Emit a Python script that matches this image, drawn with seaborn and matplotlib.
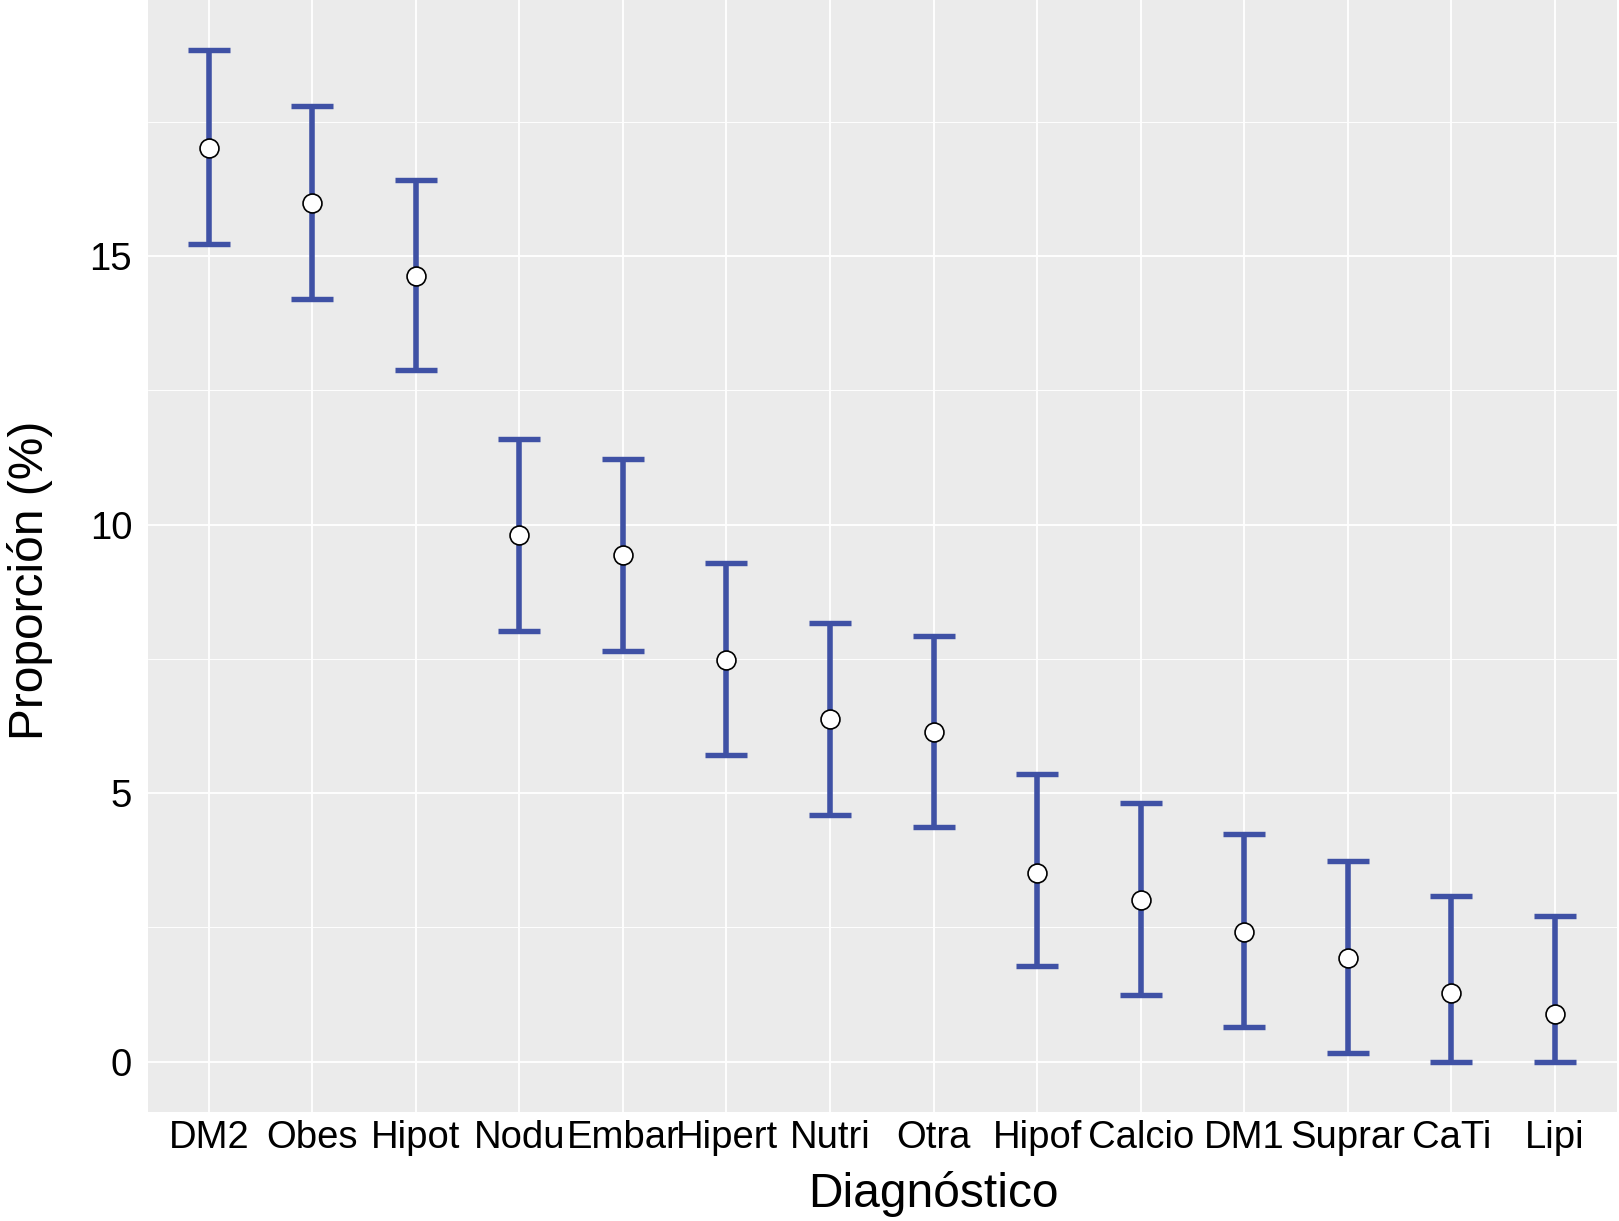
import matplotlib
matplotlib.use("Agg")
import matplotlib.pyplot as plt
import seaborn as sns
import numpy as np
import pandas as pd

# ---- data ----
categories = ["DM2", "Obes", "Hipot", "Nodu", "Embar", "Hipert", "Nutri",
              "Otra", "Hipof", "Calcio", "DM1", "Suprar", "CaTi", "Lipi"]
proportion = [17.02, 15.98, 14.63, 9.81, 9.44, 7.48, 6.37,
              6.13, 3.52, 3.00, 2.42, 1.92, 1.27, 0.88]
lower = [15.23, 14.21, 12.87, 8.02, 7.65, 5.71, 4.60,
         4.37, 1.77, 1.23, 0.65, 0.15, 0.00, 0.00]
upper = [18.83, 17.79, 16.42, 11.60, 11.23, 9.29, 8.17,
         7.92, 5.35, 4.81, 4.23, 3.73, 3.08, 2.71]
y_ticks = [0, 5, 10, 15]
y_minor = [2.5, 7.5, 12.5, 17.5]
x_title = "Diagnóstico"
y_title = "Proporción (%)"

df = pd.DataFrame({"cat": categories, "p": proportion, "lo": lower, "hi": upper})

sns.set_theme(style="darkgrid")
plt.rcParams['font.family'] = ['Liberation Sans', 'DejaVu Sans']

W, H = 1619, 1221
fig = plt.figure(figsize=(W / 100, H / 100), dpi=100)
fig.patch.set_facecolor("white")
left, right, top, bottom = 147.6, 1617.0, 0.0, 1112.0
ax = fig.add_axes([left / W, 1 - bottom / H, (right - left) / W, (bottom - top) / H])
ax.set_facecolor("#EBEBEB")

err_low = df["p"] - df["lo"]
err_high = df["hi"] - df["p"]
ax.errorbar(df["cat"], df["p"], yerr=[err_low, err_high], fmt="none",
            ecolor="#3F51A5", elinewidth=4.0, capsize=14.8, capthick=3.9, zorder=3)
sns.scatterplot(data=df, x="cat", y="p", ax=ax, s=185, color="white",
                edgecolor="black", linewidth=1.2, zorder=4)

ax.set_xlim(-0.59, 13.6)
ax.set_ylim(-0.94, 19.77)
ax.set_yticks(y_ticks)
ax.set_yticks(y_minor, minor=True)

ax.grid(True, which="major", color="white", linewidth=1.3)
ax.grid(True, which="minor", axis="y", color="white", linewidth=0.65)
ax.set_axisbelow(True)
for s in ax.spines.values():
    s.set_visible(False)

ax.tick_params(axis="both", which="major", length=4.1, width=1.1, color="#333333",
               labelsize=27.5, labelcolor="black")
ax.tick_params(axis="x", pad=1.5)
ax.tick_params(axis="y", pad=7.0)
ax.tick_params(axis="y", which="minor", length=0)

ax.set_xlabel(x_title, fontsize=34.5, color="black")
ax.set_ylabel(y_title, fontsize=34.5, color="black")
ax.xaxis.set_label_coords((933 - left) / (right - left), (bottom - 1206.7) / (bottom - top))
ax.xaxis.label.set_verticalalignment("baseline")
ax.yaxis.set_label_coords((30 - left) / (right - left), (bottom - 580) / (bottom - top))
ax.yaxis.label.set_verticalalignment("center")

fig.savefig("out.png", dpi=100)
